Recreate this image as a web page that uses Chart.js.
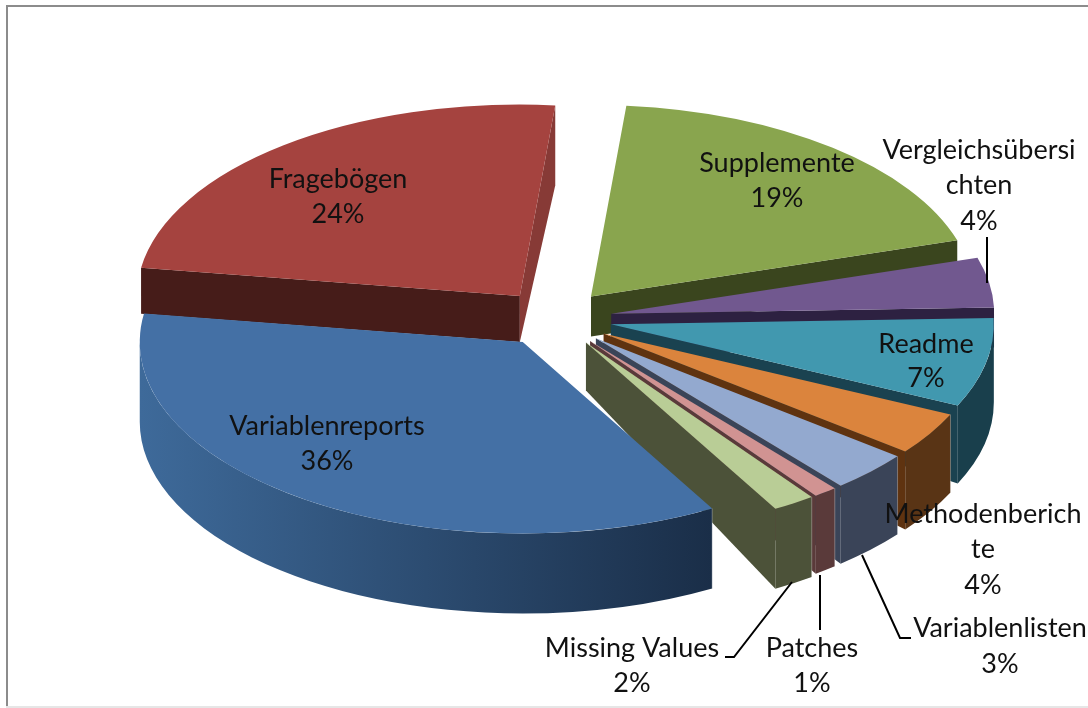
<!DOCTYPE html>
<html lang="de">
<head>
    <meta charset="UTF-8">
    <title>Dokumente</title>
    <style>
        html, body { margin: 0; padding: 0; background: #fff; }
        .chart-container { position: relative; width: 1088px; height: 708px; overflow: hidden; }
    </style>
</head>
<body>
    <div class="chart-container">
        <canvas id="pieChart"></canvas>
    </div>

    <script src="https://cdn.jsdelivr.net/npm/chart.js"></script>
    <script>
        const categories = ['Supplemente', 'Vergleichsübersichten', 'Readme', 'Methodenberichte', 'Variablenlisten', 'Patches', 'Missing Values', 'Variablenreports', 'Fragebögen'];
        const shares = [18.8, 4.2, 7.49, 3.6, 3.4, 1.0, 1.8, 35.6, 24.1];

        // colours per slice
        const topColors = ['#89a54e', '#71588f', '#4198af', '#db843d', '#93a9cf', '#d19392', '#b9cd96', '#4470a5', '#a5433f'];
        const startFaceColors = ['#3a451e', '#2d2141', '#1a4250', '#5f3310', '#3a4458', '#5a3a3a', '#4c5239', '#1a2e48', '#461c19'];
        const endFaceColors = ['#3a451e', '#2d2141', '#1a4250', '#5f3310', '#3a4458', '#5a3a3a', '#4c5239', '#1a2e48', '#873a36'];
        const wallColors = [['#3a451e', '#3a451e'], ['#2d2141', '#2d2141'], ['#193f4c', '#193f4c'], ['#593415', '#593415'], ['#3a4458', '#3a4458'], ['#5a3a3a', '#5a3a3a'], ['#4c5239', '#4c5239'], ['#1a2e48', '#3e6a9a'], ['#461c19', '#461c19']];

        // wall height at the pie centre and at the rim (the original has a perspective view)
        const centerDepths = [40, 40, 46, 46, 46, 46, 48, 80, 46];
        const rimDepths = [40, 40, 78, 78, 78, 78, 80, 80, 80];

        // the pie is tilted by flattening y, and exploded by the same distance for every slice
        const TILT = 0.5;
        const EXPLODE = 57;
        const RADIUS = 383;
        const ROTATION = 5.3;

        const TEXT_FONT = '27px Lato';

        // label text per slice: name lines, centre x and the y of each line (percent is the last line)
        const labelBlocks = [
            { lines: ['Supplemente'], x: 777, y: [163, 198] },
            { lines: ['Vergleichsübersi', 'chten'], x: 979, y: [150, 185, 221] },
            { lines: ['Readme'], x: 926, y: [344, 378] },
            { lines: ['Methodenberich', 'te'], x: 983, y: [514, 549, 585] },
            { lines: ['Variablenlisten'], x: 1000, y: [628, 664] },
            { lines: ['Patches'], x: 812, y: [648, 683] },
            { lines: ['Missing Values'], x: 632, y: [648, 683] },
            { lines: ['Variablenreports'], x: 327, y: [426, 461] },
            { lines: ['Fragebögen'], x: 338, y: [179, 214] }
        ];
        const leaderLines = [
            [[987, 237], [987, 283]],
            [[792, 582], [734, 657], [725, 657]],
            [[820, 575], [820, 630]],
            [[862, 555], [900, 638], [911, 638]]
        ];

        function sliceGeometry(arc) {
            const mid = (arc.startAngle + arc.endAngle) / 2;
            return {
                x: arc.x + Math.cos(mid) * EXPLODE,
                y: arc.y + Math.sin(mid) * EXPLODE * TILT,
                r: arc.outerRadius
            };
        }

        function drawFace(ctx, g, angle, centerDepth, rimDepth, color) {
            const rx = g.x + Math.cos(angle) * g.r;
            const ry = g.y + Math.sin(angle) * g.r * TILT;
            ctx.beginPath();
            ctx.moveTo(g.x, g.y);
            ctx.lineTo(rx, ry);
            ctx.lineTo(rx, ry + rimDepth);
            ctx.lineTo(g.x, g.y + centerDepth);
            ctx.closePath();
            ctx.fillStyle = color;
            ctx.fill();
        }

        function drawWall(ctx, g, from, to, depth, colors) {
            const gradient = ctx.createLinearGradient(g.x + Math.cos(from) * g.r, 0, g.x + Math.cos(to) * g.r, 0);
            gradient.addColorStop(0, colors[0]);
            gradient.addColorStop(1, colors[1]);
            ctx.beginPath();
            ctx.ellipse(g.x, g.y, g.r, g.r * TILT, 0, from, to);
            ctx.ellipse(g.x, g.y + depth, g.r, g.r * TILT, 0, to, from, true);
            ctx.closePath();
            ctx.fillStyle = gradient;
            ctx.fill();

            // thin light seam where the wall meets the cut face
            const sx = g.x + Math.cos(from) * g.r;
            const sy = g.y + Math.sin(from) * g.r * TILT;
            if (from > 0) {
                ctx.strokeStyle = 'rgba(255,255,255,0.3)';
                ctx.lineWidth = 1;
                ctx.beginPath();
                ctx.moveTo(sx, sy);
                ctx.lineTo(sx, sy + depth);
                ctx.stroke();
            }
        }

        const pie3d = {
            id: 'pie3d',
            beforeDraw(chart) {
                const ctx = chart.ctx;
                ctx.save();
                ctx.fillStyle = '#8c8c8c';
                ctx.fillRect(6, 5, 1082, 2);
                ctx.fillRect(6, 5, 2, 703);
                ctx.fillStyle = '#e6e6e6';
                ctx.fillRect(6, 706, 1082, 2);
                ctx.restore();
            },
            // the slices are drawn here, one by one, so the default pass is cancelled.
            // the offset option of the arc changes the radius of small slices, so it is not used
            beforeDatasetsDraw(chart) {
                const ctx = chart.ctx;
                const arcs = chart.getDatasetMeta(0).data;
                arcs.forEach((arc, i) => {
                    const g = sliceGeometry(arc);
                    if (Math.cos(arc.startAngle) < 0) drawFace(ctx, g, arc.startAngle, centerDepths[i], centerDepths[i], startFaceColors[i]);
                    if (Math.cos(arc.endAngle) > 0) drawFace(ctx, g, arc.endAngle, centerDepths[i], rimDepths[i], endFaceColors[i]);
                    const from = Math.max(arc.startAngle, 0);
                    const to = Math.min(arc.endAngle, Math.PI);
                    if (to > from) drawWall(ctx, g, from, to, rimDepths[i], wallColors[i]);
                });
                arcs.forEach(arc => {
                    const g = sliceGeometry(arc);
                    ctx.save();
                    ctx.translate(g.x, g.y);
                    ctx.scale(1, TILT);
                    ctx.translate(-arc.x, -arc.y);
                    arc.draw(ctx);
                    ctx.restore();
                });
                return false;
            },
            afterDraw(chart) {
                const ctx = chart.ctx;
                ctx.save();
                ctx.strokeStyle = '#000';
                ctx.lineWidth = 2;
                leaderLines.forEach(line => {
                    ctx.beginPath();
                    line.forEach((p, i) => i ? ctx.lineTo(p[0], p[1]) : ctx.moveTo(p[0], p[1]));
                    ctx.stroke();
                });
                ctx.fillStyle = '#111';
                ctx.font = TEXT_FONT;
                ctx.textAlign = 'center';
                ctx.textBaseline = 'middle';
                labelBlocks.forEach((block, i) => {
                    const lines = block.lines.concat(Math.round(shares[i]) + '%');
                    lines.forEach((text, n) => ctx.fillText(text, block.x, block.y[n]));
                });
                ctx.restore();
            }
        };

        document.addEventListener('DOMContentLoaded', function() {
            new Chart(document.getElementById('pieChart').getContext('2d'), {
                type: 'pie',
                data: {
                    labels: categories,
                    datasets: [{
                        data: shares,
                        backgroundColor: topColors,
                        borderWidth: 0,
                        hoverOffset: 0
                    }]
                },
                options: {
                    responsive: true,
                    maintainAspectRatio: false,
                    radius: RADIUS,
                    rotation: ROTATION,
                    events: [],
                    layout: { padding: { left: 22, bottom: 71 } },
                    plugins: {
                        legend: { display: false },
                        tooltip: { enabled: false }
                    },
                    animation: false
                },
                plugins: [pie3d]
            });
        });
    </script>
</body>
</html>
